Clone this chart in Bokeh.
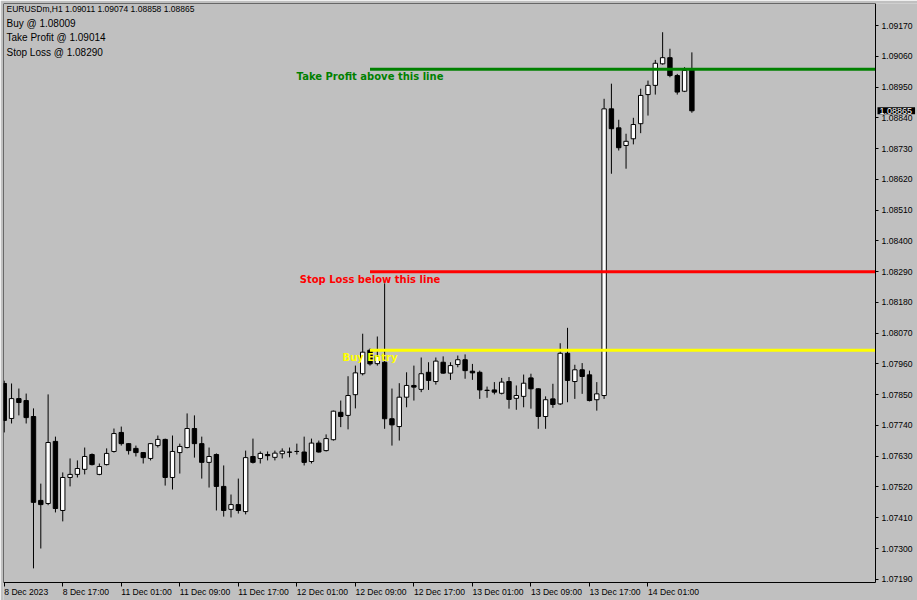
from bokeh.plotting import figure
from bokeh.models import Range1d, FixedTicker, Label, ColumnDataSource, LinearAxis
from bokeh.embed import file_html
from bokeh.resources import INLINE
from bokeh.core.properties import value

# EURUSD H1 candles, one entry per hour starting 8 Dec 2023 09:00
opens = [1.07890, 1.07765, 1.07836, 1.07829, 1.07772, 1.07472, 1.07461, 1.07683, 1.07436, 1.07554,
         1.07565, 1.07583, 1.07636, 1.07565, 1.07600, 1.07647, 1.07715, 1.07675, 1.07658, 1.07643,
         1.07622, 1.07668, 1.07690, 1.07554, 1.07643, 1.07661, 1.07729, 1.07675, 1.07608, 1.07636,
         1.07522, 1.07440, 1.07457, 1.07432, 1.07629, 1.07622, 1.07636, 1.07626, 1.07639, 1.07645,
         1.07647, 1.07645, 1.07611, 1.07677, 1.07650, 1.07689, 1.07787, 1.07776, 1.07850, 1.07925,
         1.08009, 1.07961, 1.07966, 1.07764, 1.07736, 1.07841, 1.07883, 1.07869, 1.07930, 1.07897,
         1.07966, 1.07927, 1.07958, 1.07975, 1.07934, 1.07930, 1.07866, 1.07867, 1.07855, 1.07897,
         1.07837, 1.07844, 1.07910, 1.07871, 1.07772, 1.07835, 1.07817, 1.07998, 1.07897, 1.07939,
         1.07921, 1.07832, 1.07847, 1.08872, 1.08804, 1.08741, 1.08765, 1.08819, 1.08923, 1.08956,
         1.09033, 1.09055, 1.08991, 1.08935, 1.09011]
highs = [1.07900, 1.07890, 1.07872, 1.07854, 1.07801, 1.07532, 1.07851, 1.07700, 1.07572, 1.07622,
         1.07615, 1.07661, 1.07640, 1.07604, 1.07658, 1.07729, 1.07736, 1.07677, 1.07668, 1.07645,
         1.07677, 1.07704, 1.07693, 1.07704, 1.07675, 1.07783, 1.07776, 1.07700, 1.07661, 1.07640,
         1.07597, 1.07493, 1.07550, 1.07650, 1.07693, 1.07647, 1.07647, 1.07650, 1.07658, 1.07661,
         1.07675, 1.07700, 1.07693, 1.07686, 1.07708, 1.07793, 1.07829, 1.07916, 1.07954, 1.08068,
         1.08015, 1.08058, 1.08248, 1.07872, 1.07891, 1.07930, 1.07954, 1.07983, 1.07966, 1.07983,
         1.07987, 1.07966, 1.07990, 1.07994, 1.07960, 1.07936, 1.07879, 1.07895, 1.07910, 1.07913,
         1.07883, 1.07922, 1.07925, 1.07873, 1.07844, 1.07889, 1.08034, 1.08089, 1.07957, 1.07963,
         1.07936, 1.07895, 1.08908, 1.08962, 1.08833, 1.08783, 1.08840, 1.08944, 1.08973, 1.09047,
         1.09146, 1.09087, 1.08997, 1.09021, 1.09074]
lows = [1.07715, 1.07747, 1.07776, 1.07747, 1.07229, 1.07300, 1.07455, 1.07429, 1.07397, 1.07522,
        1.07554, 1.07565, 1.07597, 1.07562, 1.07597, 1.07643, 1.07668, 1.07636, 1.07629, 1.07604,
        1.07615, 1.07661, 1.07525, 1.07511, 1.07568, 1.07658, 1.07625, 1.07550, 1.07518, 1.07436,
        1.07414, 1.07411, 1.07425, 1.07422, 1.07604, 1.07604, 1.07615, 1.07615, 1.07622, 1.07626,
        1.07636, 1.07597, 1.07604, 1.07643, 1.07647, 1.07686, 1.07734, 1.07726, 1.07801, 1.07919,
        1.07954, 1.07954, 1.07728, 1.07668, 1.07686, 1.07805, 1.07829, 1.07859, 1.07867, 1.07886,
        1.07925, 1.07903, 1.07948, 1.07907, 1.07903, 1.07835, 1.07839, 1.07851, 1.07851, 1.07800,
        1.07796, 1.07805, 1.07800, 1.07728, 1.07728, 1.07803, 1.07813, 1.07823, 1.07835, 1.07853,
        1.07826, 1.07793, 1.07835, 1.08640, 1.08723, 1.08658, 1.08745, 1.08785, 1.08848, 1.08923,
        1.09030, 1.08985, 1.08923, 1.08932, 1.08858]
closes = [1.07758, 1.07836, 1.07822, 1.07768, 1.07465, 1.07457, 1.07679, 1.07443, 1.07554, 1.07565,
          1.07586, 1.07629, 1.07600, 1.07593, 1.07640, 1.07711, 1.07675, 1.07650, 1.07643, 1.07625,
          1.07675, 1.07690, 1.07554, 1.07647, 1.07665, 1.07729, 1.07675, 1.07608, 1.07629, 1.07522,
          1.07436, 1.07457, 1.07436, 1.07625, 1.07608, 1.07640, 1.07632, 1.07641, 1.07648, 1.07644,
          1.07647, 1.07608, 1.07677, 1.07645, 1.07693, 1.07791, 1.07772, 1.07847, 1.07928, 1.08002,
          1.07960, 1.07987, 1.07764, 1.07742, 1.07841, 1.07883, 1.07877, 1.07925, 1.07901, 1.07970,
          1.07927, 1.07954, 1.07975, 1.07936, 1.07928, 1.07867, 1.07865, 1.07859, 1.07895, 1.07833,
          1.07847, 1.07891, 1.07871, 1.07772, 1.07832, 1.07815, 1.07998, 1.07901, 1.07939, 1.07915,
          1.07829, 1.07853, 1.08872, 1.08801, 1.08733, 1.08756, 1.08816, 1.08920, 1.08956, 1.09035,
          1.09055, 1.08991, 1.08932, 1.09009, 1.08865]

# time axis: bar index of each labelled hour and its caption
time_tick_bars = [0, 8, 16, 24, 32, 40, 48, 56, 64, 72, 80, 88]
time_tick_labels = ["8 Dec 2023", "8 Dec 17:00", "11 Dec 01:00", "11 Dec 09:00", "11 Dec 17:00",
                    "12 Dec 01:00", "12 Dec 09:00", "12 Dec 17:00", "13 Dec 01:00", "13 Dec 09:00",
                    "13 Dec 17:00", "14 Dec 01:00"]
price_ticks = [1.07190, 1.07300, 1.07410, 1.07520, 1.07630, 1.07740, 1.07850, 1.07960, 1.08070,
               1.08180, 1.08290, 1.08400, 1.08510, 1.08620, 1.08730, 1.08840, 1.08950, 1.09060,
               1.09170]

symbol = "EURUSDm,H1"
buy_price = 1.08009
take_profit = 1.09014
stop_loss = 1.08290
signal_bar = 50

level_prices = [take_profit, stop_loss, buy_price]
level_texts = ["Take Profit above this line", "Stop Loss below this line", "Buy Entry"]
level_colors = ["#008000", "#ff0000", "#ffff00"]

BG = "#c0c0c0"
FONT = "Liberation Sans"

# the plot frame covers the whole canvas below the top margin; the chart area
# spans bars x_start..chart_right and prices chart_bottom..y_high, with the
# price scale to its right and the time scale underneath
x_start, chart_right, x_end = -0.1, 119.1, 124.84
y_low, chart_bottom, y_high = 1.071141, 1.071784, 1.092487

p = figure(width=917, height=600, output_backend="svg", toolbar_location=None,
           x_range=Range1d(x_start, x_end), y_range=Range1d(y_low, y_high),
           x_axis_location=None, y_axis_location=None,
           min_border_left=3, min_border_right=0, min_border_top=3, min_border_bottom=0)
p.background_fill_color = BG
p.border_fill_color = BG
p.outline_line_color = None
p.grid.visible = False

# candles
n = len(opens)
idx = list(range(n))
up = [c >= o for o, c in zip(opens, closes)]
src = ColumnDataSource(dict(
    x=idx, high=highs, low=lows,
    top=[max(o, c) for o, c in zip(opens, closes)],
    bottom=[min(o, c) for o, c in zip(opens, closes)],
    fill=["white" if u else "black" for u in up],
))
p.segment(x0="x", y0="high", x1="x", y1="low", source=src, line_color="black", line_width=1)
p.vbar(x="x", top="top", bottom="bottom", width=0.6, source=src,
       fill_color="fill", line_color="black", line_width=1)

# trade levels drawn from the signal bar to the chart's right edge
p.segment(x0=[signal_bar] * 3, x1=[chart_right] * 3, y0=level_prices, y1=level_prices,
          line_color=level_colors, line_width=3)
p.text(x=[signal_bar] * 3, y=level_prices, text=level_texts, text_color=level_colors,
       text_font=value("DejaVu Sans"), text_font_style="bold", text_font_size="10px",
       text_align="center", text_baseline="top", y_offset=2)

# time scale along the bottom of the chart area
xa = LinearAxis(fixed_location=chart_bottom, ticker=FixedTicker(ticks=time_tick_bars),
                major_label_overrides={b: t for b, t in zip(time_tick_bars, time_tick_labels)},
                bounds=(x_start, chart_right), major_tick_out=4, major_label_standoff=5,
                # a tiny negative angle makes the time captions start at their tick
                major_label_orientation=-1e-9)
p.add_layout(xa, "below")

# price scale on the chart's right edge
ya = LinearAxis(fixed_location=chart_right, ticker=FixedTicker(ticks=price_ticks),
                major_label_overrides={v: f"{v:.5f}" for v in price_ticks},
                bounds=(chart_bottom, y_high), major_tick_out=3, major_label_standoff=3)
p.add_layout(ya, "right")

# plain frame lines on the left and top of the chart area
left_edge = LinearAxis(fixed_location=x_start, ticker=FixedTicker(ticks=[]),
                       major_label_text_font_size="0px", bounds=(chart_bottom, y_high))
p.add_layout(left_edge, "left")
top_edge = LinearAxis(fixed_location=y_high, ticker=FixedTicker(ticks=[]),
                      major_label_text_font_size="0px", bounds=(x_start, chart_right))
p.add_layout(top_edge, "above")

for ax in (xa, ya, left_edge, top_edge):
    ax.axis_line_color = "black"
    ax.major_tick_line_color = "black"
    ax.major_tick_in = 0
    ax.minor_tick_line_color = None
for ax in (xa, ya):
    ax.major_label_text_font = FONT
    ax.major_label_text_font_size = "8.6px"
    ax.major_label_text_color = "black"

# current price marker on the price scale
p.add_layout(Label(x=chart_right, y=closes[-1], x_offset=2, text=f"{closes[-1]:.5f}",
                   text_font=FONT, text_font_size="9px", text_color="white",
                   text_baseline="middle", background_fill_color="black",
                   padding=dict(left=2, right=3, top=1, bottom=0)))

# info lines in the top-left corner
o, h, l, c = opens[-1], highs[-1], lows[-1], closes[-1]
info = [f"{symbol}  {o:.5f} {h:.5f} {l:.5f} {c:.5f}",
        f"Buy @ {buy_price:.5f}",
        f"Take Profit @ {take_profit:.5f}",
        f"Stop Loss @ {stop_loss:.5f}"]
info_sizes = ["8.5px", "10px", "10px", "10px"]
for k, (line, fs) in enumerate(zip(info, info_sizes)):
    p.add_layout(Label(x=3, y=592 - 14.5 * k, x_units="screen", y_units="screen",
                       text=line, text_font=FONT, text_font_size=fs,
                       text_color="black", text_baseline="middle"))

open("out.html", "w").write(file_html(p, INLINE))
